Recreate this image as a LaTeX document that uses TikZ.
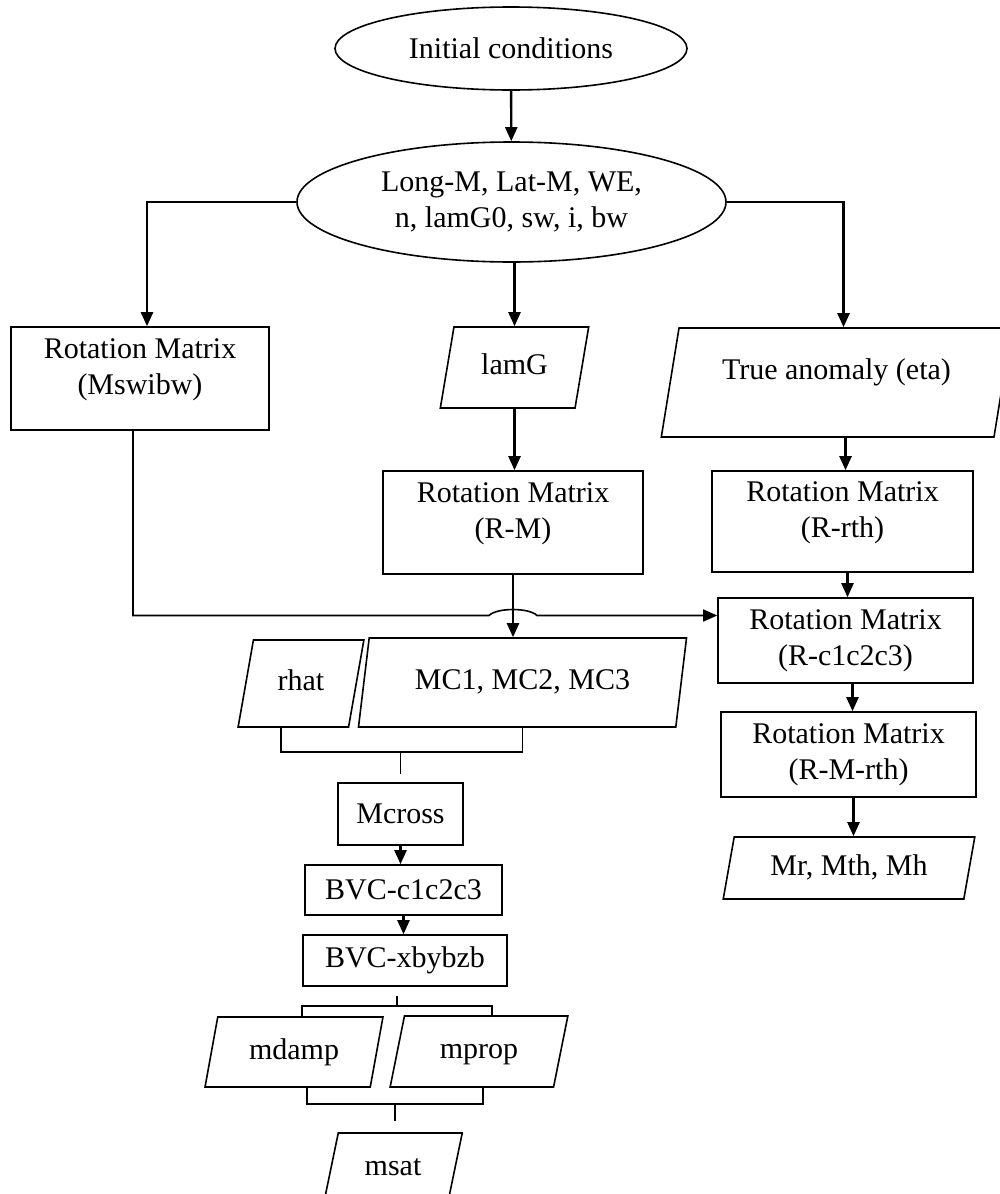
\documentclass[tikz,border=0pt]{standalone}
\usepackage{fontspec}
\setmainfont{Liberation Serif}
\usetikzlibrary{shapes.geometric, arrows.meta}
\tikzset{
  startstop/.style={
    ellipse,
    inner sep=0pt,
    align=center,
    draw=black,
    line width=1.6pt
    },
  process/.style={
    rectangle,
    inner sep=0pt,
    align=center,
    draw=black,
    line width=1.6pt
    },
  io/.style={
    trapezium,
    trapezium left angle=75,
    trapezium right angle=105,
    trapezium stretches=true,
    inner sep=0pt,
    text height=21pt,
    text depth=7pt,
    align=center,
    draw=black,
    line width=1.6pt
    },
  arrow/.style={line width=2.4pt,->,>={Stealth[length=14pt,width=12pt,inset=0pt]}},
  link/.style={line width=1.6pt},
}

\begin{document}
\begin{tikzpicture}[x=1pt, y=1pt, font=\fontsize{30}{36}\selectfont]
\useasboundingbox (0,0) rectangle (1000,-1194);
% top of the chart
\node (init) [startstop, minimum width=352pt, minimum height=83pt] at (511,-48.5) {Initial conditions};
\node (params) [startstop, minimum width=429pt, minimum height=120pt] at (511.5,-202) {Long-M, Lat-M, WE,\\n, lamG0, sw, i, bw};
% three branches
\node (mswibw) [process, minimum width=258pt, minimum height=103pt, text depth=23pt] at (140,-378.5) {Rotation Matrix\\(Mswibw)};
\node (lamg) [io, minimum width=149pt, minimum height=81pt] at (514.5,-367.5) {lamG};
\node (eta) [io, minimum width=351pt, minimum height=109pt, text depth=27pt] at (836.5,-382.5) {True anomaly (eta)};
\node (rm) [process, minimum width=260pt, minimum height=103pt, text depth=23pt] at (513,-522.5) {Rotation Matrix\\(R-M)};
\node (rrth) [process, minimum width=261pt, minimum height=101pt, text depth=23pt] at (842.5,-521.5) {Rotation Matrix\\(R-rth)};
\node (rc) [process, minimum width=255pt, minimum height=85pt] at (845.5,-640.5) {Rotation Matrix\\(R-c1c2c3)};
\node (rmrth) [process, minimum width=255pt, minimum height=85pt] at (848.5,-754.5) {Rotation Matrix\\(R-M-rth)};
\node (mr) [io, minimum width=252pt, minimum height=62pt] at (849,-868) {Mr, Mth, Mh};
% lower left part
\node (rhat) [io, minimum width=126pt, minimum height=87pt] at (301,-683.5) {rhat};
\node (mc) [io, minimum width=329pt, minimum height=89pt] at (522.5,-682.5) {MC1, MC2, MC3};
\node (mcross) [process, minimum width=125pt, minimum height=62pt] at (400.5,-814) {Mcross};
\node (bvcc) [process, minimum width=197pt, minimum height=50pt] at (403.5,-890) {BVC-c1c2c3};
\node (bvcx) [process, minimum width=204pt, minimum height=51pt] at (405,-960.5) {BVC-xbybzb};
\node (mdamp) [io, minimum width=178pt, minimum height=70pt] at (294,-1052) {mdamp};
\node (mprop) [io, minimum width=178pt, minimum height=71pt] at (479,-1051.5) {mprop};
\node (msat) [io, minimum width=139pt, minimum height=70pt] at (393,-1168) {msat};

\draw[arrow] (init) -- (params);
\draw[arrow] (params.west) -| ([xshift=7pt]mswibw.north);
\draw[arrow] (lamg.north |- params.south) -- (lamg.north);
\draw[arrow] (params.east) -| ([xshift=7pt]eta.north);
\draw[arrow] (lamg.south) -- (lamg.south |- rm.north);
\draw[arrow] ([xshift=9pt]eta.south) -- ([xshift=9pt]eta.south |- rrth.north);
\draw[arrow] ([xshift=5pt]rrth.south) -- ([xshift=5pt]rrth.south |- rc.north);
\draw[arrow] ([xshift=7pt]rc.south) -- ([xshift=7pt]rc.south |- rmrth.north);
\draw[arrow] ([xshift=5pt]rmrth.south) -- ([xshift=5pt]rmrth.south |- mr.north);
\draw[arrow] (rm.south) -- (rm.south |- mc.north);
% line that hops over the R-M arrow
\coordinate (cross) at ([yshift=25pt]rm.south |- rc.west);
\draw[link, ->, >={Stealth[length=14pt,width=12pt,inset=0pt]}] ([xshift=-7pt]mswibw.south) |- ([xshift=-24pt]cross) .. controls +(8,8) and +(-8,8) .. ([xshift=24pt]cross) -- (rc.west |- cross);
% brackets
\coordinate (jtop) at ([yshift=-24pt]rhat.south);
\draw[link] ([xshift=-20pt]rhat.south) |- (jtop) -| (mc.south);
\draw[link, shorten >=8pt] (mcross.north |- jtop) -- (mcross.north);
\draw[arrow] (mcross.south) -- (mcross.south |- bvcc.north);
\draw[arrow] (bvcc.south) -- (bvcc.south |- bvcx.north);
\coordinate (jmid) at ([xshift=-8pt,yshift=-19pt]bvcx.south);
\draw[link, shorten <=9pt] (jmid |- bvcx.south) -- (jmid);
\draw[link] ([xshift=8pt]mdamp.north) |- (jmid) -| ([xshift=13pt]mprop.north);
\coordinate (jlow) at ([xshift=13pt,yshift=-16pt]mdamp.south);
\draw[link] (jlow |- mdamp.south) -- (jlow) -| ([xshift=4pt]mprop.south);
\draw[link, shorten >=11pt] ([xshift=2pt]msat.north |- jlow) -- ([xshift=2pt]msat.north);
\end{tikzpicture}
\end{document}
